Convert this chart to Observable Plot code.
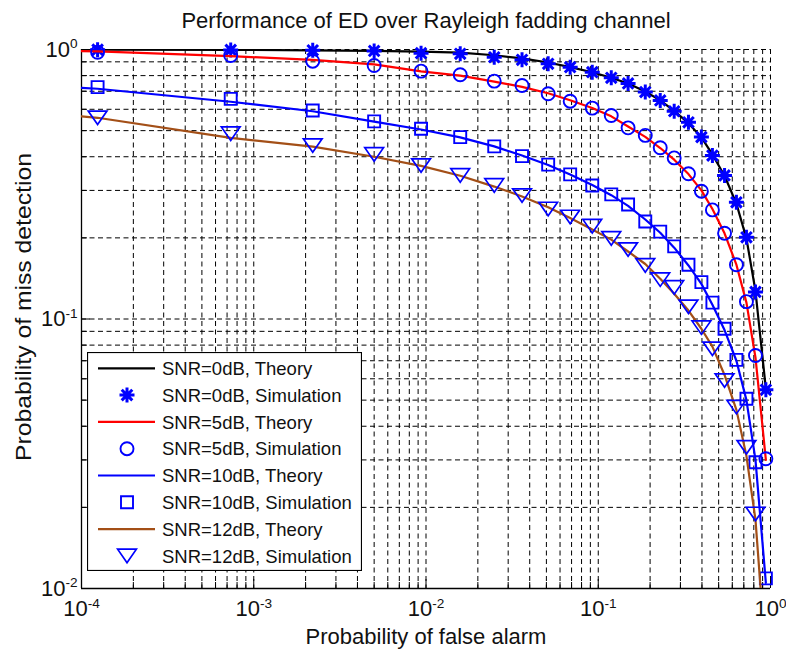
<!DOCTYPE html>
<html><head><meta charset="utf-8">
<script src="https://cdn.jsdelivr.net/npm/d3@7"></script>
<script src="https://cdn.jsdelivr.net/npm/@observablehq/plot@0.6"></script>
<style>
html,body{margin:0;padding:0;background:#fff;}
#wrap{position:relative;width:786px;height:650px;font-family:"Liberation Sans",Arial,sans-serif;}
#legend{position:absolute;left:87px;top:352px;}
</style></head><body><div id="wrap"></div>
<script>
const title = "Performance of ED over Rayleigh fadding channel";
const xLabel = "Probability of false alarm";
const yLabel = "Probability of miss detection";
const xDomain = [1e-4, 1];
const yDomain = [1e-2, 1];
const xTickValues = [1e-4, 1e-3, 1e-2, 1e-1, 1];
const xTickLabels = ["10^-4", "10^-3", "10^-2", "10^-1", "10^0"];
const yTickValues = [1e-2, 1e-1, 1];
const yTickLabels = ["10^-2", "10^-1", "10^0"];

const snrLabels = ["SNR=0dB", "SNR=5dB", "SNR=10dB", "SNR=12dB"];
const lineColors = ["#000000", "#ff0000", "#0000ff", "#a34f17"];
const markerColor = "#0000ff";

// simulation: probability of false alarm (shared by all SNRs)
const pfSim = [1.24e-4, 7.35e-4, 2.2e-3, 5.0e-3, 9.36e-3, 0.0158, 0.0249, 0.0361, 0.0512, 0.0687, 0.0923, 0.119, 0.149, 0.1875, 0.229, 0.276, 0.334, 0.397, 0.46, 0.541, 0.634, 0.725, 0.818, 0.94];
const pmSim0 = [0.998, 0.996, 0.993, 0.988, 0.969, 0.964, 0.936, 0.916, 0.885, 0.860, 0.824, 0.785, 0.748, 0.695, 0.647, 0.590, 0.537, 0.473, 0.404, 0.341, 0.271, 0.201, 0.126, 0.0546];
const pmSim5 = [0.977, 0.950, 0.905, 0.872, 0.831, 0.806, 0.763, 0.735, 0.685, 0.643, 0.606, 0.569, 0.512, 0.480, 0.432, 0.396, 0.346, 0.298, 0.254, 0.208, 0.159, 0.116, 0.0732, 0.0303];
const pmSim10 = [0.725, 0.656, 0.594, 0.541, 0.508, 0.473, 0.437, 0.402, 0.374, 0.344, 0.313, 0.290, 0.266, 0.230, 0.211, 0.186, 0.159, 0.137, 0.115, 0.092, 0.0705, 0.0506, 0.0294, 0.0109];
const pmSim12 = [0.558, 0.487, 0.440, 0.408, 0.371, 0.341, 0.313, 0.287, 0.256, 0.239, 0.221, 0.199, 0.181, 0.158, 0.140, 0.131, 0.111, 0.0929, 0.0775, 0.0591, 0.0471, 0.0334, 0.0189];

// theory curves
const pfTheory = [1e-4, 1.24e-4, 7.35e-4, 2.2e-3, 5.0e-3, 9.36e-3, 0.0158, 0.0249, 0.0361, 0.0512, 0.0687, 0.0923, 0.119, 0.149, 0.1875, 0.229, 0.276, 0.334, 0.397, 0.46, 0.541, 0.634, 0.725, 0.818, 0.94];
const pmTheory0 = [0.999, 0.999, 0.997, 0.993, 0.989, 0.982, 0.974, 0.952, 0.927, 0.895, 0.860, 0.823, 0.786, 0.748, 0.698, 0.648, 0.592, 0.533, 0.472, 0.408, 0.340, 0.268, 0.199, 0.127, 0.055];
const pmTheory5 = [0.986, 0.984, 0.945, 0.915, 0.88, 0.83, 0.80, 0.76, 0.727, 0.688, 0.648, 0.607, 0.565, 0.518, 0.474, 0.431, 0.39, 0.345, 0.30, 0.256, 0.208, 0.159, 0.115, 0.072, 0.030];
const pmTheory10 = [0.721, 0.715, 0.64, 0.59, 0.54, 0.505, 0.472, 0.437, 0.404, 0.373, 0.344, 0.314, 0.288, 0.263, 0.234, 0.209, 0.184, 0.158, 0.135, 0.113, 0.091, 0.070, 0.050, 0.030, 0.0105];
const pmTheory12 = [0.565, 0.558, 0.47, 0.436, 0.40, 0.37, 0.34, 0.31, 0.285, 0.26, 0.237, 0.215, 0.197, 0.178, 0.16, 0.141, 0.124, 0.1075, 0.092, 0.079, 0.062, 0.046, 0.031, 0.018, 0.0055];

// marker shapes
const asteriskSym = {draw(ctx, size) { const r = Math.sqrt(size / Math.PI), d = r * 0.7071;
  ctx.moveTo(-r, 0); ctx.lineTo(r, 0); ctx.moveTo(0, -r); ctx.lineTo(0, r);
  ctx.moveTo(-d, -d); ctx.lineTo(d, d); ctx.moveTo(-d, d); ctx.lineTo(d, -d); }};
const circleSym = {draw(ctx, size) { const r = Math.sqrt(size / Math.PI); ctx.moveTo(r, 0); ctx.arc(0, 0, r, 0, 2 * Math.PI); }};
const squareSym = {draw(ctx, size) { const r = Math.sqrt(size / Math.PI);
  ctx.moveTo(-r, -r); ctx.lineTo(r, -r); ctx.lineTo(r, r); ctx.lineTo(-r, r); ctx.closePath(); }};
const triDownSym = {draw(ctx, size) { const r = Math.sqrt(size / Math.PI);
  ctx.moveTo(-1.25 * r, -0.9 * r); ctx.lineTo(1.25 * r, -0.9 * r); ctx.lineTo(0, 0.9 * r); ctx.closePath(); }};
const markerSyms = [asteriskSym, circleSym, squareSym, triDownSym];
const markerR = [7.5, 6.5, 6, 7.5];
const markerSW = [3, 1.9, 1.9, 1.7];

const simPm = [pmSim0, pmSim5, pmSim10, pmSim12];
const theoryPm = [pmTheory0, pmTheory5, pmTheory10, pmTheory12];

const theoryRows = theoryPm.map(arr => arr.map((pm, i) => ({pf: pfTheory[i], pm})));
const simRows = simPm.map(arr => arr.map((pm, i) => ({pf: pfSim[i], pm})));

// grid positions (decade multiples)
const xGrid = [];
for (let e = -4; e < 0; e++) for (let k = 1; k <= 9; k++) xGrid.push(k * Math.pow(10, e));
xGrid.push(1);
const yGrid = [];
for (let e = -2; e < 0; e++) for (let k = 1; k <= 9; k++) yGrid.push(k * Math.pow(10, e));
yGrid.push(1);
const xMinor = xGrid.filter(v => !xTickValues.some(t => Math.abs(t - v) / t < 1e-9));
const yMinor = yGrid.filter(v => !yTickValues.some(t => Math.abs(t - v) / t < 1e-9));

const font = "'Liberation Sans', Arial, sans-serif";
const gridStyle = {stroke: "#000", strokeWidth: 1, strokeDasharray: "5,3.5"};

const marks = [
  Plot.ruleX(xGrid, gridStyle),
  Plot.ruleY(yGrid, gridStyle),
  Plot.ruleX([xDomain[0]], {stroke: "#000", strokeWidth: 1.3}),
  Plot.ruleY([yDomain[0]], {stroke: "#000", strokeWidth: 1.3}),
  Plot.axisX(xMinor, {tickSize: -6, tickFormat: () => "", label: null, stroke: "#000"}),
  Plot.axisY(yMinor, {tickSize: -6, tickFormat: () => "", label: null, stroke: "#000"}),
  Plot.axisX(xTickValues, {tickSize: -9, tickPadding: 21, tickFormat: d => xTickLabels[xTickValues.indexOf(d)], fontSize: 22, label: null, fill: "#111"}),
  Plot.axisY(yTickValues, {tickSize: -9, tickPadding: 13, tickFormat: d => yTickLabels[yTickValues.indexOf(d)], fontSize: 22, label: null, fill: "#111"})
];
for (let s = 0; s < 4; s++) {
  marks.push(Plot.line(theoryRows[s], {x: "pf", y: "pm", stroke: lineColors[s], strokeWidth: 2.2, clip: true}));
  marks.push(Plot.dot(simRows[s], {x: "pf", y: "pm", symbol: markerSyms[s], r: markerR[s], fill: "none", stroke: markerColor, strokeWidth: markerSW[s]}));
}
marks.push(
  Plot.text([title], {text: d => d, frameAnchor: "top", dy: -29, fontSize: 22, lineAnchor: "middle", textAnchor: "middle", fill: "#111"}),
  Plot.text([xLabel], {text: d => d, frameAnchor: "bottom", dy: 48, fontSize: 22, lineAnchor: "middle", textAnchor: "middle", fill: "#111"}),
  Plot.text([yLabel], {text: d => d, frameAnchor: "left", dx: -58, dy: -12, rotate: -90, fontSize: 22, lineAnchor: "middle", textAnchor: "middle", fill: "#111", ariaLabel: "y-label"})
);

const chart = Plot.plot({
  width: 786, height: 650,
  marginLeft: 81, marginRight: 16, marginTop: 49, marginBottom: 62,
  style: {fontFamily: font, background: "white", color: "#000"},
  x: {type: "log", domain: xDomain},
  y: {type: "log", domain: yDomain},
  marks
});
const wrap = document.getElementById("wrap");
wrap.appendChild(chart);

// superscript exponents in tick labels
d3.select(chart).selectAll('g[aria-label="x-axis tick label"] text, g[aria-label="y-axis tick label"] text').each(function () {
  const t = this.textContent;
  if (!t.includes("^")) return;
  const [base, exp] = t.split("^");
  const sel = d3.select(this);
  sel.text(base);
  sel.append("tspan").attr("dy", "-0.6em").attr("font-size", "0.62em").text(exp);
});
// the reference's y label is drawn taller than the others
d3.select(chart).selectAll("text").filter(function () { return this.textContent === yLabel; })
  .attr("textLength", 308).attr("lengthAdjust", "spacingAndGlyphs");

// legend
const legendEntries = [];
snrLabels.forEach((lab, s) => {
  legendEntries.push({label: lab + ", Theory", kind: "line", s});
  legendEntries.push({label: lab + ", Simulation", kind: "marker", s});
});
const lw = 275, lh = 219, rowH = 26.8, row0 = 16.3;
const leg = d3.select(wrap).append("svg").attr("id", "legend").attr("width", lw).attr("height", lh)
  .style("font-family", font);
leg.append("rect").attr("x", 0.5).attr("y", 0.5).attr("width", lw - 1).attr("height", lh - 1)
  .attr("fill", "white").attr("stroke", "#000").attr("stroke-width", 1.2);
legendEntries.forEach((e, i) => {
  const y = row0 + i * rowH;
  if (e.kind === "line") {
    leg.append("line").attr("x1", 11).attr("x2", 68).attr("y1", y).attr("y2", y)
      .attr("stroke", lineColors[e.s]).attr("stroke-width", 2.2);
  } else {
    const r = markerR[e.s];
    leg.append("path").attr("transform", `translate(40,${y})`)
      .attr("d", d3.symbol(markerSyms[e.s], r * r * Math.PI)())
      .attr("fill", "none").attr("stroke", markerColor).attr("stroke-width", markerSW[e.s]);
  }
  leg.append("text").attr("x", 75).attr("y", y).attr("dy", "0.36em")
    .attr("font-size", 18.5).attr("fill", "#111").text(e.label);
});
</script></body></html>
